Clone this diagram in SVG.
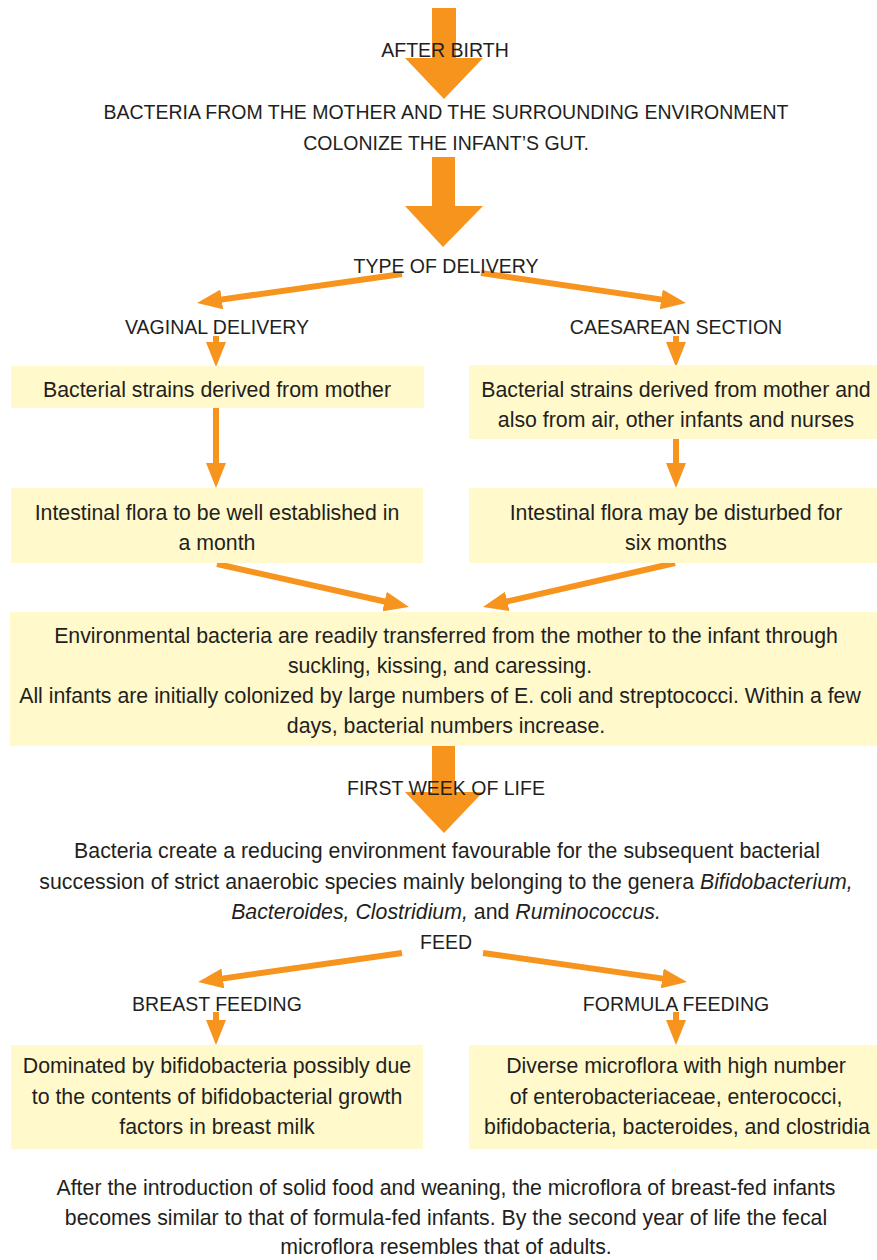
<svg xmlns="http://www.w3.org/2000/svg" width="877" height="1260" viewBox="0 0 877 1260">
<style>
text{font-family:"Liberation Sans",Arial,sans-serif;fill:#231F20;text-anchor:middle}
.cap{font-size:19.5px}
.b{font-size:21.3px}
.box{fill:#FFF9CB}
.big{fill:#F7941D}
.ln{stroke:#F7941D;stroke-width:6;fill:none;marker-end:url(#ah)}
.i{font-style:italic}
</style>
<defs>
<marker id="ah" viewBox="0 0 25 20" refX="15" refY="10" markerWidth="25" markerHeight="20" markerUnits="userSpaceOnUse" orient="auto">
<path d="M0,0 L25,10 L0,20 Z" fill="#F7941D"/>
</marker>
</defs>

<g id="connectors">
<polygon class="big" points="432,8 456,8 456,58 483,58 444,99 405,58 432,58"/>
<polygon class="big" points="432,157 455,157 455,206 483,206 443,247 405,206 432,206"/>
<polygon class="big" points="432,746 455,746 455,792 483,792 444,833 405,792 432,792"/>
<line class="ln" x1="402" y1="274" x2="206.9" y2="301.6"/>
<line class="ln" x1="481" y1="273" x2="676.1" y2="301.6"/>
<line class="ln" x1="216" y1="336" x2="216" y2="357"/>
<line class="ln" x1="676" y1="336" x2="676" y2="357"/>
<line class="ln" x1="216" y1="408" x2="216" y2="478"/>
<line class="ln" x1="676" y1="439" x2="676" y2="478"/>
<line class="ln" x1="217" y1="564" x2="399.2" y2="604.8"/>
<line class="ln" x1="675" y1="563" x2="492.7" y2="604.8"/>
<line class="ln" x1="402" y1="953" x2="208" y2="980.6"/>
<line class="ln" x1="483" y1="953" x2="677.1" y2="980.6"/>
<line class="ln" x1="216" y1="1012" x2="216" y2="1035"/>
<line class="ln" x1="676" y1="1012" x2="676" y2="1035"/>
</g>

<g id="after-birth"><text class="cap" x="445" y="57">AFTER BIRTH</text></g>
<g id="colonize">
<text class="cap" x="446" y="119">BACTERIA FROM THE MOTHER AND THE SURROUNDING ENVIRONMENT</text>
<text class="cap" x="446" y="150">COLONIZE THE INFANT’S GUT.</text>
</g>
<g id="type-of-delivery"><text class="cap" x="446" y="273">TYPE OF DELIVERY</text></g>
<g id="vaginal"><text class="cap" x="217" y="334">VAGINAL DELIVERY</text></g>
<g id="caesarean"><text class="cap" x="676" y="334">CAESAREAN SECTION</text></g>

<g id="vag-strains">
<rect class="box" x="11" y="366" width="413" height="42"/>
<text class="b" x="217" y="397">Bacterial strains derived from mother</text>
</g>
<g id="cae-strains">
<rect class="box" x="469" y="365" width="408" height="74"/>
<text class="b" x="676" y="397">Bacterial strains derived from mother and</text>
<text class="b" x="676" y="427">also from air, other infants and nurses</text>
</g>
<g id="vag-flora">
<rect class="box" x="11" y="488" width="412" height="75"/>
<text class="b" x="217" y="520">Intestinal flora to be well established in</text>
<text class="b" x="217" y="550">a month</text>
</g>
<g id="cae-flora">
<rect class="box" x="469" y="488" width="408" height="75"/>
<text class="b" x="676" y="520">Intestinal flora may be disturbed for</text>
<text class="b" x="676" y="550">six months</text>
</g>

<g id="environmental">
<rect class="box" x="10" y="612" width="867" height="134"/>
<text class="b" x="446" y="643">Environmental bacteria are readily transferred from the mother to the infant through</text>
<text class="b" x="440" y="673">suckling, kissing, and caressing.</text>
<text class="b" x="440" y="703">All infants are initially colonized by large numbers of E. coli and streptococci. Within a few</text>
<text class="b" x="446" y="733">days, bacterial numbers increase.</text>
</g>

<g id="first-week"><text class="cap" x="446" y="795">FIRST WEEK OF LIFE</text></g>
<g id="reducing">
<text class="b" x="447" y="858">Bacteria create a reducing environment favourable for the subsequent bacterial</text>
<text class="b" x="446" y="889">succession of strict anaerobic species mainly belonging to the genera <tspan class="i">Bifidobacterium,</tspan></text>
<text class="b" x="446" y="919"><tspan class="i">Bacteroides, Clostridium,</tspan> and <tspan class="i">Ruminococcus.</tspan></text>
</g>
<g id="feed"><text class="cap" x="446" y="949">FEED</text></g>
<g id="breast"><text class="cap" x="217" y="1011">BREAST FEEDING</text></g>
<g id="formula"><text class="cap" x="676" y="1011">FORMULA FEEDING</text></g>

<g id="breast-box">
<rect class="box" x="11" y="1045" width="412" height="104"/>
<text class="b" x="217" y="1073">Dominated by bifidobacteria possibly due</text>
<text class="b" x="217" y="1104">to the contents of bifidobacterial growth</text>
<text class="b" x="217" y="1134">factors in breast milk</text>
</g>
<g id="formula-box">
<rect class="box" x="469" y="1045" width="408" height="104"/>
<text class="b" x="676" y="1073">Diverse microflora with high number</text>
<text class="b" x="676" y="1104">of enterobacteriaceae, enterococci,</text>
<text class="b" x="677" y="1134">bifidobacteria, bacteroides, and clostridia</text>
</g>

<g id="weaning">
<text class="b" x="446" y="1195">After the introduction of solid food and weaning, the microflora of breast-fed infants</text>
<text class="b" x="446" y="1225">becomes similar to that of formula-fed infants. By the second year of life the fecal</text>
<text class="b" x="446" y="1254">microflora resembles that of adults.</text>
</g>
</svg>
